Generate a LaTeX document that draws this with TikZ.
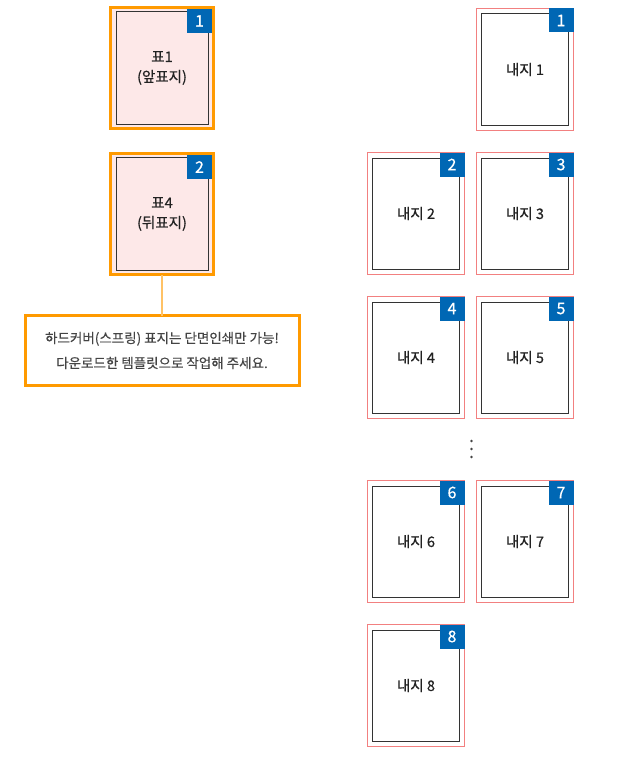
\documentclass[tikz,border=0pt]{standalone}
\usepackage{fontspec}
\setmainfont{Noto Sans CJK KR}
\newfontfamily\medfont[FakeBold=0.6]{Noto Sans CJK KR}
\newfontfamily\notefont[FakeBold=0.3]{Noto Sans CJK KR}
\definecolor{pagered}{HTML}{F28080}
\definecolor{badgeblue}{HTML}{0067B4}
\definecolor{coverorange}{HTML}{FF9A00}
\definecolor{lineorange}{HTML}{FFC266}
\definecolor{coverpink}{HTML}{FDE8E8}
\definecolor{innerdark}{HTML}{333333}
\definecolor{textdark}{HTML}{222222}
\definecolor{notegray}{HTML}{444444}
\newcommand\mypage[5]{%
  \node[outerpage] (#1o) at (#2,#3) {};
  \node[innerpage] (#1) at (#1o.center) {#5};
  \node[badge] (#1b) at (#1o.north east) {#4};
}
\begin{document}
\begin{tikzpicture}[x=1pt,y=-1pt,
  every node/.style={outer sep=0pt},
  outerpage/.style={draw=pagered, line width=1pt, minimum width=97pt, minimum height=122pt, inner sep=0pt, anchor=north west},
  innerpage/.style={draw=innerdark, line width=1pt, minimum width=87pt, minimum height=111pt, inner sep=0pt, text=textdark, font=\medfont\fontsize{14.5}{17}\selectfont},
  badge/.style={fill=badgeblue, minimum width=25pt, minimum height=24pt, inner sep=0pt, anchor=north east, text=white, font=\medfont\fontsize{16}{17}\selectfont},
  cover/.style={draw=coverorange, fill=coverpink, line width=3pt, minimum width=103pt, minimum height=121pt, inner sep=0pt, anchor=north west},
  coverinner/.style={draw=innerdark, line width=1pt, minimum width=92pt, minimum height=113pt, inner sep=0pt, text=textdark, align=center, font=\medfont\fontsize{14.5}{20}\selectfont},
  note/.style={draw=coverorange, fill=white, line width=3pt, minimum width=274pt, minimum height=70pt, inner sep=0pt, align=center, text=notegray, font=\notefont\fontsize{13.5}{25}\selectfont},
  connector/.style={draw=lineorange, line width=1.5pt},
  dot/.style={fill=notegray}
]
\useasboundingbox (0,0) rectangle (640,760);
% covers
\node[cover] (c1o) at (110.5,7.5) {};
\node[coverinner] (c1) at (c1o.center) {표1\\(앞표지)};
\node[badge, xshift=-1.5pt, yshift=-1.5pt] (c1b) at (c1o.north east) {1};
\node[cover] (c2o) at (110.5,153.5) {};
\node[coverinner] (c2) at (c2o.center) {표4\\(뒤표지)};
\node[badge, xshift=-1.5pt, yshift=-1.5pt] (c2b) at (c2o.north east) {2};
% note
\node[note] (note) at (162,350.5) {하드커버(스프링) 표지는 단면인쇄만 가능!\\다운로드한 템플릿으로 작업해 주세요.};
\draw[connector] (c2o.south) -- (note.north);
% inner pages
\mypage{p1}{476.5}{8.5}{1}{내지 1}
\mypage{p2}{367.5}{152.5}{2}{내지 2}
\mypage{p3}{476.5}{152.5}{3}{내지 3}
\mypage{p4}{367.5}{296.5}{4}{내지 4}
\mypage{p5}{476.5}{296.5}{5}{내지 5}
\mypage{p6}{367.5}{480.5}{6}{내지 6}
\mypage{p7}{476.5}{480.5}{7}{내지 7}
\mypage{p8}{367.5}{624.5}{8}{내지 8}
% ellipsis
\fill[dot] (471.5,441) circle (1.3);
\fill[dot] (471.5,449) circle (1.3);
\fill[dot] (471.5,457) circle (1.3);
\end{tikzpicture}
\end{document}
